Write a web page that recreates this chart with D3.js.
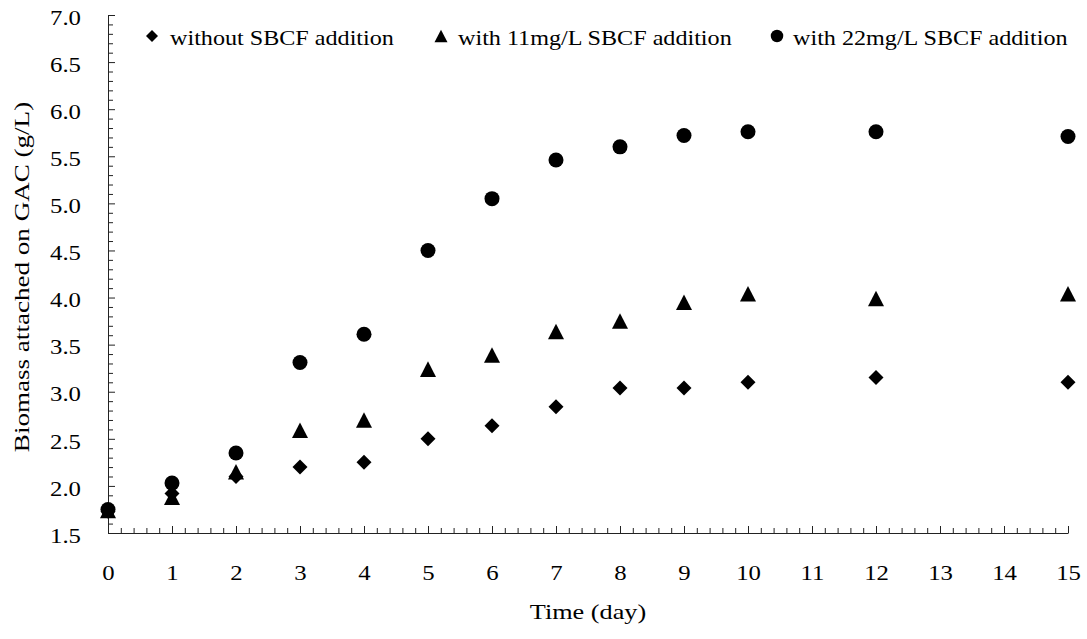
<!DOCTYPE html>
<html>
<head>
<meta charset="utf-8">
<script src="https://cdn.jsdelivr.net/npm/d3@7"></script>
<style>
  html, body { margin: 0; padding: 0; background: #fff; }
  svg { display: block; }
  text { font-family: "Liberation Serif", "Times New Roman", serif; fill: #000; }
</style>
</head>
<body>
<svg id="chart" width="1087" height="639"></svg>
<script>
// ---- data ----
const days = [0, 1, 2, 3, 4, 5, 6, 7, 8, 9, 10, 12, 15];
const withoutSBCF = [1.73, 1.92, 2.10, 2.20, 2.25, 2.50, 2.64, 2.84, 3.04, 3.04, 3.10, 3.15, 3.10];
const with11 = [1.74, 1.88, 2.15, 2.59, 2.70, 3.24, 3.39, 3.64, 3.75, 3.95, 4.04, 3.99, 4.04];
const with22 = [1.75, 2.03, 2.35, 3.31, 3.61, 4.50, 5.05, 5.46, 5.60, 5.72, 5.76, 5.76, 5.71];
const seriesNames = ["without SBCF addition", "with 11mg/L SBCF addition", "with 22mg/L SBCF addition"];
const xTickValues = d3.range(0, 16);
const yTickValues = [1.5, 2.0, 2.5, 3.0, 3.5, 4.0, 4.5, 5.0, 5.5, 6.0, 6.5, 7.0];
const xTitle = "Time (day)";
const yTitle = "Biomass attached on GAC (g/L)";

(function () {
// ---- layout ----
const svg = d3.select("#chart");
const mLeft = 108, mRight = 1068, mTop = 15, mBottom = 533;
const x = d3.scaleLinear().domain([0, 15]).range([mLeft, mRight]);
const y = d3.scaleLinear().domain([1.5, 7.0]).range([mBottom, mTop]);
const FS = 21;

// custom symbols (bbox-centred)
const diamondSym = { draw(ctx, size) { const h = Math.sqrt(size) / 2; ctx.moveTo(0, -h); ctx.lineTo(h, 0); ctx.lineTo(0, h); ctx.lineTo(-h, 0); ctx.closePath(); } };
const triangleSym = { draw(ctx, size) { const w = Math.sqrt(size) / 2; const h = w * 0.97; ctx.moveTo(0, -h); ctx.lineTo(w, h); ctx.lineTo(-w, h); ctx.closePath(); } };
const circleSym = { draw(ctx, size) { const r = Math.sqrt(size) / 2; ctx.moveTo(r, 0); ctx.arc(0, 0, r, 0, 2 * Math.PI); } };

const series = [
  { name: seriesNames[0], values: withoutSBCF, sym: diamondSym, size: 15 * 15, lsize: 12 * 12 },
  { name: seriesNames[1], values: with11, sym: triangleSym, size: 16 * 16, lsize: 13 * 13 },
  { name: seriesNames[2], values: with22, sym: circleSym, size: 15 * 15, lsize: 12.5 * 12.5 }
];

// ---- axes ----
const xMinor = d3.range(0, 76).map(i => i / 5).filter(v => Math.abs(v - Math.round(v)) > 1e-6);
const yMinor = d3.range(15, 71).map(i => i / 10).filter(v => Math.abs(v * 2 - Math.round(v * 2)) > 1e-6);

svg.append("g").attr("transform", `translate(0,${mBottom})`)
  .call(d3.axisBottom(x).tickValues(xMinor).tickSizeInner(-5).tickSizeOuter(0).tickFormat(""))
  .call(g => g.select(".domain").remove())
  .call(g => g.selectAll("line").attr("stroke", "#222"));

svg.append("g").attr("transform", `translate(${mLeft},0)`)
  .call(d3.axisLeft(y).tickValues(yMinor).tickSizeInner(-5).tickSizeOuter(0).tickFormat(""))
  .call(g => g.select(".domain").remove())
  .call(g => g.selectAll("line").attr("stroke", "#222"));

const tickSx = 1.18;
svg.append("g").attr("transform", `translate(0,${mBottom})`)
  .call(d3.axisBottom(x).tickValues(xTickValues).tickSizeInner(-7).tickSizeOuter(0).tickPadding(32).tickFormat(d3.format("d")))
  .call(g => g.select(".domain").attr("stroke", "#222"))
  .call(g => g.selectAll("line").attr("stroke", "#222"))
  .call(g => g.selectAll("text").attr("font-size", FS).attr("transform", `scale(${tickSx},1)`));

svg.append("g").attr("transform", `translate(${mLeft},0)`)
  .call(d3.axisLeft(y).tickValues(yTickValues).tickSizeInner(-7).tickSizeOuter(0).tickPadding(27).tickFormat(d3.format(".1f")))
  .call(g => g.select(".domain").attr("stroke", "#222"))
  .call(g => g.selectAll("line").attr("stroke", "#222"))
  .call(g => g.selectAll("text").attr("font-size", FS)
    .attr("x", -27 / tickSx).attr("dy", "0.44em").attr("transform", `scale(${tickSx},1)`));

svg.selectAll("g").attr("font-family", null);

// ---- titles ----
svg.append("text")
  .attr("transform", `translate(${(mLeft + mRight) / 2},619) scale(1.25,1)`)
  .attr("text-anchor", "middle").attr("font-size", FS).text(xTitle);

svg.append("text")
  .attr("transform", `translate(29,277) rotate(-90) scale(1.29,1)`)
  .attr("text-anchor", "middle").attr("font-size", FS).text(yTitle);

// ---- points ----
series.forEach(s => {
  svg.append("g").selectAll("path")
    .data(days.map((d, i) => ({ d, v: s.values[i] })))
    .join("path")
    .attr("transform", p => `translate(${x(p.d)},${y(p.v)})`)
    .attr("d", d3.symbol().type(s.sym).size(s.size)())
    .attr("fill", "#000");
});

// ---- legend ----
const legendMarkX = [152, 441, 777];
const legendTextX = [170, 458, 793];
const legendY = 36;
const leg = svg.append("g");
series.forEach((s, i) => {
  leg.append("path")
    .attr("transform", `translate(${legendMarkX[i]},${legendY})`)
    .attr("d", d3.symbol().type(s.sym).size(s.lsize)())
    .attr("fill", "#000");
  leg.append("text")
    .attr("transform", `translate(${legendTextX[i]},45) scale(1.15,1)`)
    .attr("font-size", FS).text(s.name);
});
})();
</script>
</body>
</html>
